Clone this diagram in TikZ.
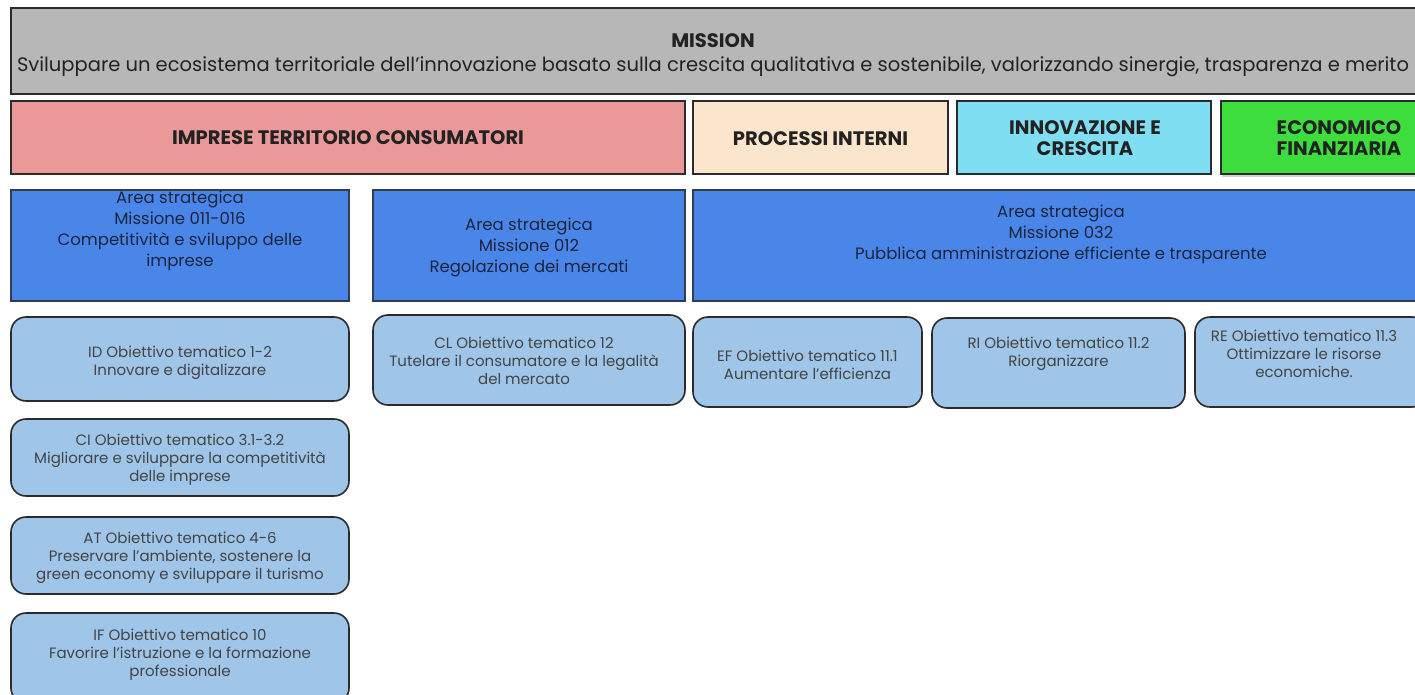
\documentclass[tikz,border=0pt]{standalone}
\usepackage{fontspec}
\setmainfont{Poppins}
\usetikzlibrary{shadows}
\definecolor{missiongray}{HTML}{B7B7B7}
\definecolor{redcat}{HTML}{EA9999}
\definecolor{peachcat}{HTML}{FCE5CD}
\definecolor{cyancat}{HTML}{80DEF2}
\definecolor{greencat}{HTML}{3EDD3E}
\definecolor{areablue}{HTML}{4A86E8}
\definecolor{objblue}{HTML}{9FC5E8}
\definecolor{edgedark}{HTML}{2B2B2B}
\definecolor{txtdark}{HTML}{222222}
\definecolor{txtobj}{HTML}{444444}
\definecolor{txtarea}{HTML}{1B2540}
\tikzset{
  x=1pt, y=-1pt,
  missionbox/.style={draw=edgedark, line width=1.8pt, fill=missiongray, inner sep=0pt},
  catbox/.style={draw=edgedark, line width=1.6pt, inner sep=0pt},
  areabox/.style={draw=edgedark!80!areablue, line width=1.2pt, fill=areablue, inner sep=0pt},
  objbox/.style={draw=edgedark, line width=1.6pt, fill=objblue, rounded corners=15pt, inner sep=0pt},
  misstxt/.style={align=center, text=txtdark, font=\fontsize{19.5}{24}\selectfont},
  cattxt/.style={align=center, text=txtdark, font=\bfseries\fontsize{19.5}{21}\selectfont},
  areatxt/.style={align=center, text=txtarea, font=\fontsize{16.5}{21}\selectfont},
  objtxt/.style={align=center, text=txtobj, font=\fontsize{15}{18}\selectfont},
}
\begin{document}
\begin{tikzpicture}
\useasboundingbox (0,0) rectangle (1415,695);
\clip (0,0) rectangle (1415,695);
\fill[white] (0,0) rectangle (1415,695);
% mission
\node[missionbox, minimum width=1406pt, minimum height=86pt] (mission) at (714,51) {};
\node[misstxt] (missiontxt) at (713,55) {\textbf{MISSION}\\Sviluppare un ecosistema territoriale dell'innovazione basato sulla crescita qualitativa e sostenibile, valorizzando sinergie, trasparenza e merito};
% categories
\node[catbox, fill=redcat, minimum width=674pt, minimum height=73pt] (imprese) at (348,137.5) {};
\node[cattxt] (impresetxt) at (348,138) {IMPRESE TERRITORIO CONSUMATORI};
\node[catbox, fill=peachcat, minimum width=255pt, minimum height=73pt] (processi) at (820.5,137.5) {};
\node[cattxt] (processitxt) at (820.5,139) {PROCESSI INTERNI};
\node[catbox, fill=cyancat, minimum width=254pt, minimum height=73pt] (innov) at (1084,137.5) {};
\node[cattxt] (innovtxt) at (1085,138) {INNOVAZIONE E\\CRESCITA};
\node[catbox, fill=greencat, minimum width=236pt, minimum height=73pt,
      drop shadow={opacity=0.35, shadow xshift=1pt, shadow yshift=-3pt}] (econ) at (1339,137.5) {};
\node[cattxt] (econtxt) at (1339,138) {ECONOMICO\\FINANZIARIA};
% strategic areas
\node[areabox, minimum width=338pt, minimum height=111pt] (area1) at (180,245.5) {};
\node[areatxt] (area1txt) at (180,231) {Area strategica\\Missione 011-016\\Competitività e sviluppo delle\\imprese};
\node[areabox, minimum width=312pt, minimum height=111pt] (area2) at (529,245.5) {};
\node[areatxt] (area2txt) at (529,247) {Area strategica\\Missione 012\\Regolazione dei mercati};
\node[areabox, minimum width=736pt, minimum height=111pt] (area3) at (1061,245.5) {};
\node[areatxt] (area3txt) at (1061,234) {Area strategica\\Missione 032\\Pubblica amministrazione efficiente e trasparente};
% objectives
\node[objbox, minimum width=338pt, minimum height=84pt] (id) at (180,359) {};
\node[objtxt] (idtxt) at (180,363) {ID Obiettivo tematico 1-2\\Innovare e digitalizzare};
\node[objbox, minimum width=312pt, minimum height=90pt] (cl) at (529,360) {};
\node[objtxt] (cltxt) at (524,361) {CL Obiettivo tematico 12\\Tutelare il consumatore e la legalità\\del mercato};
\node[objbox, minimum width=229pt, minimum height=90pt] (ef) at (807.5,362) {};
\node[objtxt] (eftxt) at (807.5,365) {EF Obiettivo tematico 11.1\\Aumentare l'efficienza};
\node[objbox, minimum width=253pt, minimum height=90pt] (ri) at (1058.5,363) {};
\node[objtxt] (ritxt) at (1058.5,354) {RI Obiettivo tematico 11.2\\Riorganizzare};
\node[objbox, minimum width=232pt, minimum height=90pt] (re) at (1311,362) {};
\node[objtxt] (retxt) at (1304,354) {RE Obiettivo tematico 11.3\\Ottimizzare le risorse\\economiche.};
\node[objbox, minimum width=338pt, minimum height=77pt] (ci) at (180,457.5) {};
\node[objtxt] (citxt) at (180,460) {CI Obiettivo tematico 3.1-3.2\\Migliorare e sviluppare la competitività\\delle imprese};
\node[objbox, minimum width=338pt, minimum height=77pt] (at) at (180,555.5) {};
\node[objtxt] (attxt) at (180,558) {AT Obiettivo tematico 4-6\\Preservare l'ambiente, sostenere la\\green economy e sviluppare il turismo};
\node[objbox, minimum width=338pt, minimum height=90pt] (if) at (180,658) {};
\node[objtxt] (iftxt) at (180,655) {IF Obiettivo tematico 10\\Favorire l'istruzione e la formazione\\professionale};
\end{tikzpicture}
\end{document}
